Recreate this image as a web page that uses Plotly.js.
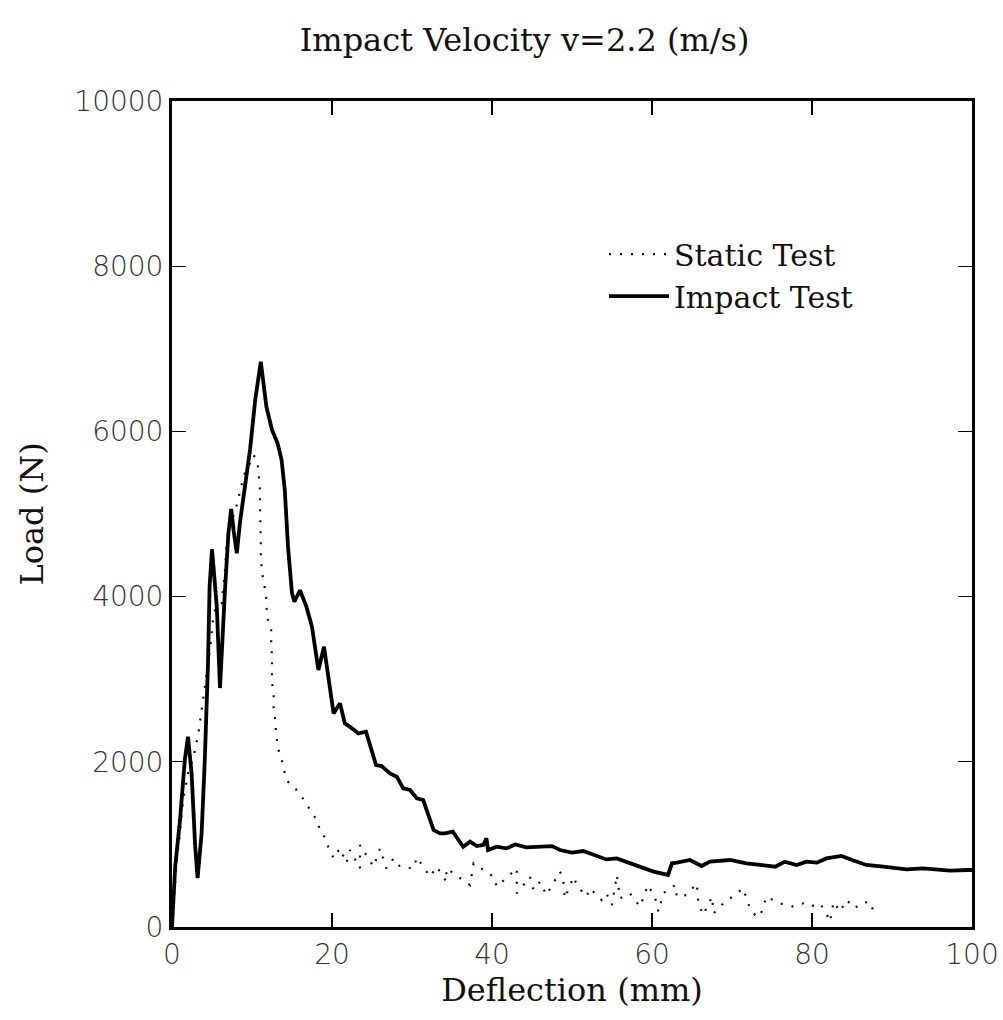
<!DOCTYPE html>
<html>
<head>
<meta charset="utf-8">
<script src="https://cdn.plot.ly/plotly-3.0.1.min.js"></script>
<style>html,body{margin:0;padding:0;background:#fff;}#chart{width:1003px;height:1020px;}</style>
</head>
<body>
<div id="chart"></div>
<script>
// Impact test (solid line)
const impactX = [0,0.4,1.0,1.6,2.0,2.45,2.9,3.2,3.7,4.1,4.5,4.7,5.0,5.3,5.6,6.0,6.2,6.6,7.05,7.4,7.7,8.1,8.5,9.1,9.75,10.4,11.1,11.8,12.5,13.2,13.7,14.1,14.5,15.0,15.3,16.0,16.8,17.5,18.3,19.0,19.5,20.2,21.0,21.6,22.5,23.3,24.25,24.8,25.5,26.2,27.25,28.1,28.9,29.75,30.6,31.4,32.0,32.7,33.5,34.1,35.1,35.8,36.4,37.25,38.1,38.9,39.3,39.5,40.6,41.8,42.9,44.3,46,47.5,48.5,50.0,51.4,52.9,54.3,55.6,56.8,58.5,60.2,62.0,62.5,63.1,64.75,66.2,67.25,69.75,71.8,73.5,75.4,76.6,78.1,79.3,80.6,81.8,83.7,85.0,86.8,88.9,91.8,93.9,96,97.25,99.5,100];
const impactY = [0,730,1295,2022,2304,1860,972,593,1134,2022,3192,4120,4573,4282,3878,2893,3353,4040,4766,5060,4800,4524,4900,5290,5775,6380,6844,6300,6017,5856,5654,5290,4604,4040,3938,4077,3878,3634,3111,3393,3030,2586,2708,2465,2405,2344,2364,2182,1961,1949,1860,1820,1679,1659,1558,1537,1376,1174,1134,1134,1154,1053,972,1033,980,993,1073,932,972,952,1000,964,972,980,932,900,920,872,818,830,791,730,670,630,771,779,811,738,791,811,771,751,730,791,751,791,779,830,860,811,751,730,698,710,698,682,690,690];

// Static test (dotted)
const staticX = [0,0.6,1.0,1.4,2.0,2.7,3.3,3.7,4.1,4.75,5.2,5.7,6.2,6.4,6.6,6.8,7.25,7.9,8.3,8.5,9.1,9.75,10.2,10.7,10.9,11.0,11.0,11.05,11.1,11.1,11.1,11.2,11.4,11.75,11.8,12.0,12.4,12.4,12.5,12.5,12.5,12.7,12.7,12.9,13.0,13.2,13.5,13.9,14.1,14.5,15.0,15.6,16.2,16.8,17.25,17.7,18.1,18.5,18.9,19.3,19.75,20.2,21.0,21.8,22.25,23.5,23.5,25.2,26,26.8,27.7,28.5,30.2,30.6,32.25,33.1,34.3,34.3,37.25,37.7,40.2,40.6,43.1,43.1,44.75,45.2,46,46.8,48.5,48.9,49.1,50.2,50.6,51.8,52.25,53.7,54.3,55.0,55.6,56.0,57.25,58.5,59.5,60.4,60.8,61.4,62.9,63.1,64.3,65.6,65.8,66.4,67.5,67.7,68.9,70.6,71.4,72.25,72.9,73.5,74.3,76.0,77.7,78.9,79.75,81.0,81.8,82.25,82.7,83.5,84.3,85.4,86.0,87.25,87.7,88.3];
const staticY = [0,811,1134,1537,1860,2062,2344,2627,2869,3353,3797,3900,3918,4120,4282,4604,4846,5048,5170,5290,5493,5614,5714,5621,5452,5290,5130,4975,4818,4665,4504,4350,4200,4040,3878,3717,3596,3434,3273,3132,2970,2809,2667,2506,2345,2203,2062,1981,1860,1759,1699,1659,1578,1497,1416,1356,1295,1174,1134,1012,932,830,952,771,932,710,993,730,952,710,830,730,710,843,609,730,548,710,508,771,609,488,710,407,609,448,548,387,670,590,347,609,508,367,468,327,407,266,630,347,407,246,508,347,186,407,508,367,387,528,286,145,367,165,286,407,468,226,145,125,367,286,246,286,246,286,165,64,306,186,327,226,286,306,186,230];

const xTicks = [0,20,40,60,80,100];
const yTicks = [0,2000,4000,6000,8000,10000];
const seriesNames = ["Static Test","Impact Test"];

const tickFont = {family:"DejaVu Sans, sans-serif", size:28, color:"#333", weight:200};
const titleFont = {family:"DejaVu Serif, serif", size:32, color:"#111"};
const axTitleFont = {family:"DejaVu Serif, serif", size:32, color:"#111"};

const traces = [
  {x: staticX, y: staticY, name: seriesNames[0], mode:"lines", type:"scatter",
   line:{color:"#111", width:2.2, dash:"2px,9px"}},
  {x: impactX, y: impactY, name: seriesNames[1], mode:"lines", type:"scatter",
   line:{color:"#000", width:3.8}}
];

const axisCommon = {
  showgrid:false, zeroline:false, showline:true, linecolor:"#000", linewidth:3,
  mirror:"ticks", ticks:"inside", ticklen:14, tickwidth:1.2, tickcolor:"#000",
  tickfont: tickFont
};

const layout = {
  width:1003, height:1020,
  margin:{l:172, r:31, t:101, b:93},
  paper_bgcolor:"#fff", plot_bgcolor:"#fff",
  title:{text:"Impact Velocity v=2.2 (m/s)", font:titleFont, x:0.523, xref:"container", xanchor:"center", y:0.961, yanchor:"middle"},
  xaxis: Object.assign({}, axisCommon, {range:[0,100], tickvals:xTicks, ticktext:xTicks.map(String),
    title:{text:"Deflection (mm)", font:axTitleFont, standoff:2}}),
  yaxis: Object.assign({}, axisCommon, {range:[0,10000], tickvals:yTicks, ticktext:yTicks.map(String),
    title:{text:"Load (N)", font:axTitleFont, standoff:22}}),
  showlegend:true,
  legend:{x:0.54, y:0.846, xanchor:"left", yanchor:"top", bgcolor:"rgba(0,0,0,0)",
    font:{family:"DejaVu Serif, serif", size:30, color:"#111"}, itemwidth:60, tracegroupgap:0}
};

Plotly.newPlot("chart", traces, layout, {displayModeBar:false, staticPlot:true});
</script>
</body>
</html>
